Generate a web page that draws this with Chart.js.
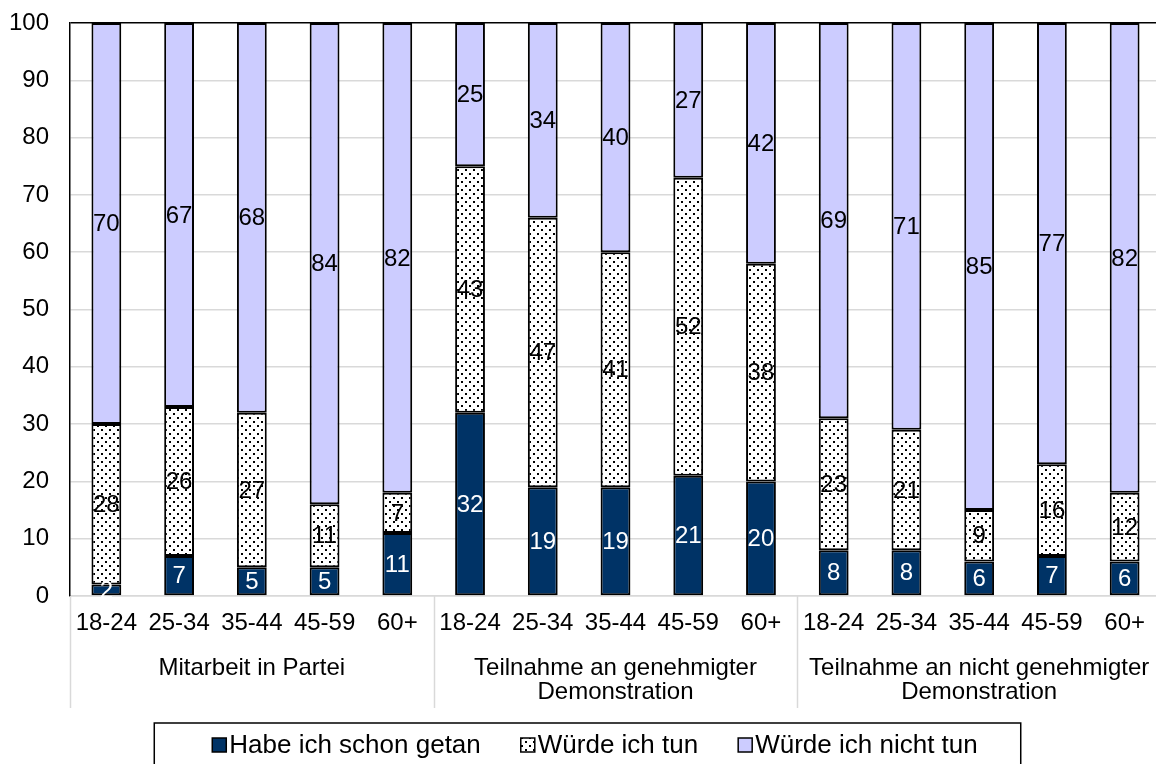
<!DOCTYPE html>
<html>
<head>
<meta charset="utf-8">
<script src="https://cdn.jsdelivr.net/npm/chart.js@4.4.1/dist/chart.umd.min.js"></script>
<style>
  html, body { margin: 0; padding: 0; background: #fff; overflow: hidden; }
  #wrap { width: 1156px; height: 764px; overflow: hidden; }
  canvas { display: block; }
</style>
</head>
<body>
<div id="wrap"><canvas id="c" width="1161" height="764"></canvas></div>
<script>
// ---- data ----
const ageGroups = ['18-24', '25-34', '35-44', '45-59', '60+'];
const groupLabels = [
  ['Mitarbeit in Partei'],
  ['Teilnahme an genehmigter', 'Demonstration'],
  ['Teilnahme an nicht genehmigter', 'Demonstration']
];
const seriesNames = ['Habe ich schon getan', 'Würde ich tun', 'Würde ich nicht tun'];
const doneValues  = [2, 7, 5, 5, 11,   32, 19, 19, 21, 20,   8, 8, 6, 7, 6];
const wouldValues = [28, 26, 27, 11, 7, 43, 47, 41, 52, 38,  23, 21, 9, 16, 12];
const notValues   = [70, 67, 68, 84, 82, 25, 34, 40, 27, 42, 69, 71, 85, 77, 82];
const yTicks = [0, 10, 20, 30, 40, 50, 60, 70, 80, 90, 100];

const categories = [];
groupLabels.forEach(() => ageGroups.forEach(a => categories.push(a)));

// ---- styles ----
const FONT = '"Liberation Sans", Arial, sans-serif';
Chart.defaults.font.family = FONT;
Chart.defaults.color = '#000';
const NAVY = '#003366';
const LILAC = '#CCCCFF';
const GRID = '#D9D9D9';

function makeDots() {
  const c = document.createElement('canvas');
  c.width = 8; c.height = 8;
  const g = c.getContext('2d');
  g.fillStyle = '#fff'; g.fillRect(0, 0, 8, 8);
  g.fillStyle = '#000';
  [[1,1],[5,5]].forEach(([x,y]) => g.fillRect(x, y, 2, 2));
  return document.getElementById('c').getContext('2d').createPattern(c, 'repeat');
}
const DOTS = makeDots();
const fills = [NAVY, DOTS, LILAC];
const labelColors = ['#fff', '#000', '#000'];

const valueLabels = {
  id: 'valueLabels',
  afterDatasetsDraw(chart) {
    const ctx = chart.ctx;
    ctx.save();
    ctx.font = '24px ' + FONT;
    ctx.textAlign = 'center';
    ctx.textBaseline = 'middle';
    chart.data.datasets.forEach((ds, di) => {
      const meta = chart.getDatasetMeta(di);
      meta.data.forEach((el, i) => {
        const v = ds.data[i];
        ctx.fillStyle = labelColors[di];
        ctx.fillText(String(v), el.x, (el.y + el.base) / 2 + 1);
      });
    });
    ctx.restore();
  }
};

const groupAxis = {
  id: 'groupAxis',
  afterDraw(chart) {
    const ctx = chart.ctx;
    const xs = chart.scales.x;
    const area = chart.chartArea;
    const n = categories.length;
    const cw = (xs.right - xs.left) / n;
    ctx.save();
    ctx.strokeStyle = GRID;
    ctx.lineWidth = 1.5;
    for (let g = 0; g <= groupLabels.length; g++) {
      const x = Math.round(xs.left + g * ageGroups.length * cw) + 0.5;
      ctx.beginPath();
      ctx.moveTo(x, area.bottom);
      ctx.lineTo(x, area.bottom + 112);
      ctx.stroke();
    }
    ctx.fillStyle = '#000';
    ctx.font = '24px ' + FONT;
    ctx.textAlign = 'center';
    ctx.textBaseline = 'middle';
    groupLabels.forEach((lines, g) => {
      const cx = xs.left + (g + 0.5) * ageGroups.length * cw;
      lines.forEach((t, li) => ctx.fillText(t, cx, area.bottom + 72 + li * 24));
    });

    // legend
    ctx.font = '26px ' + FONT;
    ctx.textAlign = 'left';
    const box = 14, gapBT = 3, gapItems = 40;
    const widths = chart.data.datasets.map(d => ctx.measureText(d.label).width);
    const total = widths.reduce((a, w) => a + box + gapBT + w, 0) + gapItems * (widths.length - 1);
    const cyL = 745;
    let x = 595 - total / 2;
    const startX = x;
    chart.data.datasets.forEach((d, i) => {
      ctx.fillStyle = d.backgroundColor;
      ctx.fillRect(x, cyL - box / 2, box, box);
      ctx.strokeStyle = '#000';
      ctx.lineWidth = 1.5;
      ctx.strokeRect(x, cyL - box / 2, box, box);
      ctx.fillStyle = '#000';
      ctx.fillText(d.label, x + box + gapBT, cyL + 1);
      x += box + gapBT + widths[i] + gapItems;
    });
    const endX = x - gapItems;
    ctx.strokeStyle = '#000';
    ctx.lineWidth = 1.5;
    ctx.strokeRect(startX - 58, 723, (endX + 43) - (startX - 58), 60);
    ctx.restore();
  }
};

new Chart(document.getElementById('c'), {
  type: 'bar',
  data: {
    labels: categories,
    datasets: [
      { label: seriesNames[0], data: doneValues,  backgroundColor: fills[0] },
      { label: seriesNames[1], data: wouldValues, backgroundColor: fills[1] },
      { label: seriesNames[2], data: notValues,   backgroundColor: fills[2] }
    ].map(d => Object.assign(d, {
      borderColor: '#000', borderWidth: 2, borderSkipped: false,
      barPercentage: 0.41, categoryPercentage: 1
    }))
  },
  options: {
    responsive: false,
    animation: false,
    layout: { padding: { top: 23, right: 0, bottom: 0, left: 0 } },
    plugins: { legend: { display: false }, tooltip: { enabled: false } },
    scales: {
      x: {
        stacked: true,
        grid: { display: false, drawTicks: false },
        border: { color: GRID, width: 1.5 },
        ticks: { font: { size: 24 }, color: '#000', padding: 13, maxRotation: 0, autoSkip: false },
        afterFit(s) { s.height = 168; }
      },
      y: {
        stacked: true,
        min: 0, max: 100,
        afterBuildTicks(s) { s.ticks = yTicks.map(v => ({ value: v })); },
        grid: {
          color: c => (c.tick && c.tick.value === 100 ? '#000' : GRID),
          lineWidth: 1.5, drawTicks: false
        },
        border: { color: '#000', width: 1.5 },
        ticks: { font: { size: 24, lineHeight: 0.4 }, color: '#000', padding: 21 },
        afterFit(s) { s.width = 70; s.paddingTop = 0; s.paddingBottom = 0; }
      }
    }
  },
  plugins: [valueLabels, groupAxis]
});
</script>
</body>
</html>
